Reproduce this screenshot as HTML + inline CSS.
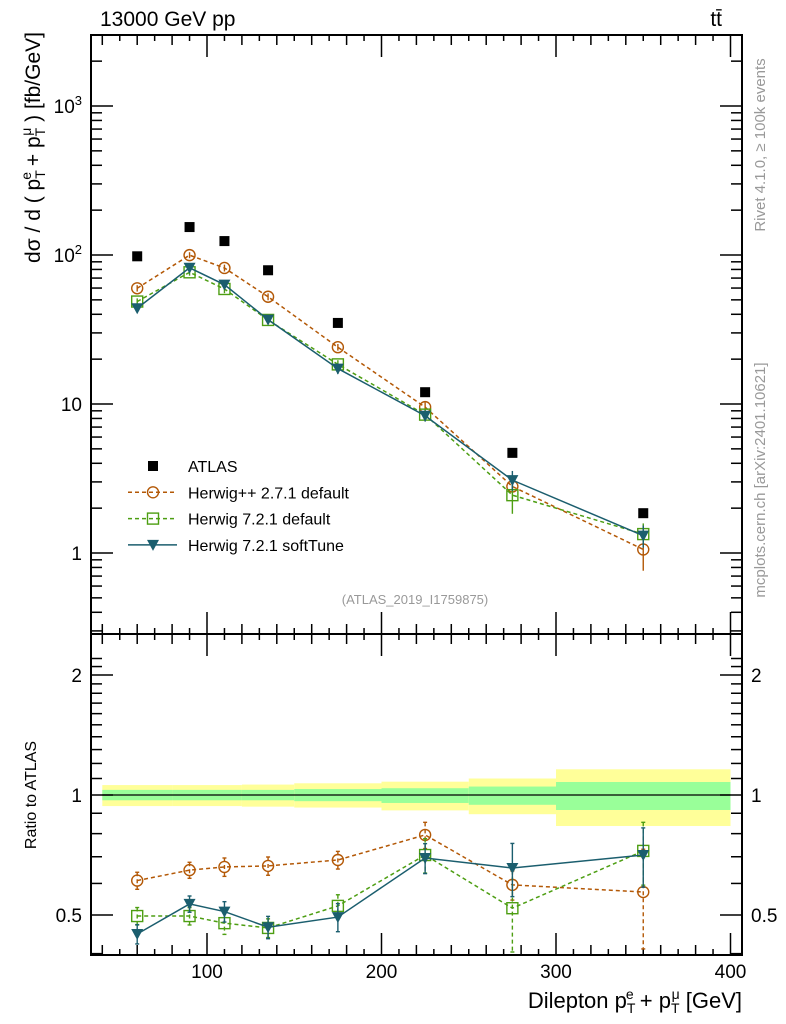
<!DOCTYPE html>
<html><head><meta charset="utf-8"><style>
body{margin:0;background:#fff;}
svg{display:block;font-family:"Liberation Sans",sans-serif;}
</style></head><body>
<svg id="chart" width="786" height="1024" xmlns="http://www.w3.org/2000/svg"></svg>
<script>
const binLo=[40,80,100,120,150,200,250,300];
const binHi=[80,100,120,150,200,250,300,400];
const binCenter=[60,90,110,135,175,225,275,350];
const atlas=[98,154,124,79,35,12.0,4.7,1.85];
const bandTotUp=[1.059,1.059,1.059,1.062,1.07,1.08,1.10,1.16];
const bandTotDn=[0.938,0.938,0.938,0.935,0.93,0.915,0.895,0.836];
const bandStatUp=[1.03,1.03,1.03,1.03,1.035,1.04,1.05,1.078];
const bandStatDn=[0.97,0.97,0.97,0.97,0.965,0.955,0.945,0.917];
const rHpp=[0.61,0.648,0.66,0.664,0.687,0.794,0.595,0.571];
const eHpp=[0.03,0.03,0.035,0.035,0.035,0.06,0.05,0.16];
const rH721=[0.497,0.497,0.477,0.464,0.527,0.707,0.52,0.724];
const eH721=[0.025,0.025,0.03,0.025,0.035,0.07,0.13,0.13];
const rSoft=[0.448,0.533,0.51,0.466,0.494,0.695,0.656,0.707];
const eSoft=[0.025,0.025,0.03,0.03,0.04,0.06,0.1,0.12];
const xTicks=[100,200,300,400];
const yTicksMain=[[1000,'3'],[100,'2'],[10,''],[1,'']];
const yTicksRatio=[[2,'2'],[1,'1'],[0.5,'0.5']];

const NS='http://www.w3.org/2000/svg';
const svg=document.getElementById('chart');
const L=91,R=742,T=35,MID=634,B=955;
const X=v=>32.5+(v)*1.745;
const YM=v=>553-149*Math.log10(v);
const YR=v=>795-120*Math.log2(v);
function el(tag,attrs,parent,text){const e=document.createElementNS(NS,tag);for(const k in attrs)e.setAttribute(k,attrs[k]);if(text!==undefined)e.textContent=text;(parent||svg).appendChild(e);return e;}

for(let i=0;i<binLo.length;i++){
  const b1=el('rect',{x:X(binLo[i]),y:YR(bandTotUp[i]),width:X(binHi[i])-X(binLo[i]),height:YR(bandTotDn[i])-YR(bandTotUp[i]),fill:'#ffff99'});
  
  
  const b2=el('rect',{x:X(binLo[i]),y:YR(bandStatUp[i]),width:X(binHi[i])-X(binLo[i]),height:YR(bandStatDn[i])-YR(bandStatUp[i]),fill:'#99ff99'});
  
  
}
el('line',{x1:X(40),x2:X(400),y1:YR(1),y2:YR(1),stroke:'#000','stroke-width':1.2});

el('rect',{x:L,y:T,width:R-L,height:MID-T,fill:'none',stroke:'#000','stroke-width':2});
el('rect',{x:L,y:MID,width:R-L,height:B-MID,fill:'none',stroke:'#000','stroke-width':2});

for(let v=40;v<=400;v+=10){
  const big=v%100===0, mid=v%20===0;
  const len=big?22:(mid?10:6);
  [[T,1],[MID,-1],[MID,1],[B,-1]].forEach(([y0,d])=>{
    el('line',{x1:X(v),x2:X(v),y1:y0,y2:y0+d*len,stroke:'#000','stroke-width':1.5});
  });
}
xTicks.forEach(v=>{const t=el('text',{x:X(v),y:978,'font-size':19,'text-anchor':'middle'},svg,String(v));
});

for(let d=-1;d<=3;d++){for(let m=1;m<10;m++){const v=m*Math.pow(10,d);const y=YM(v);if(y<T||y>MID)continue;
  const len=m===1?22:11;
  el('line',{x1:L,x2:L+len,y1:y,y2:y,stroke:'#000','stroke-width':1.5});
  el('line',{x1:R,x2:R-len,y1:y,y2:y,stroke:'#000','stroke-width':1.5});}}
yTicksMain.forEach(([v,s])=>{
  let t;
  if(s){t=el('text',{x:82,y:YM(v)+7,'font-size':19,'text-anchor':'end'},svg);
    t.innerHTML='10<tspan font-size="13" dy="-8">'+s+'</tspan>';}
  else t=el('text',{x:82,y:YM(v)+7,'font-size':19,'text-anchor':'end'},svg,v===10?'10':'1');
  });
for(let v=0.4;v<=2.3;v+=0.1){const y=YR(v);if(y<MID||y>B)continue;
  const major=Math.abs(v-0.5)<1e-6||Math.abs(v-1)<1e-6||Math.abs(v-2)<1e-6;const len=major?22:11;
  el('line',{x1:L,x2:L+len,y1:y,y2:y,stroke:'#000','stroke-width':1.5});
  el('line',{x1:R,x2:R-len,y1:y,y2:y,stroke:'#000','stroke-width':1.5});}
yTicksRatio.forEach(([v,s])=>{
  const t=el('text',{x:82,y:YR(v)+7,'font-size':19,'text-anchor':'end'},svg,s);
  
  const t2=el('text',{x:751,y:YR(v)+7,'font-size':19,'text-anchor':'start'},svg,s);
  });

function marker(type,x,y,color,g){
  if(type==='sq') el('rect',{x:x-5,y:y-5,width:10,height:10,fill:'#000'},g);
  if(type==='circ') el('circle',{cx:x,cy:y,r:5.5,fill:'none',stroke:color,'stroke-width':1.4},g);
  if(type==='osq') el('rect',{x:x-5.5,y:y-5.5,width:11,height:11,fill:'none',stroke:color,'stroke-width':1.4},g);
  if(type==='tri') el('path',{d:`M${x-6} ${y-5}L${x+6} ${y-5}L${x} ${y+6}Z`,fill:color},g);
}
const series=[
  {name:'herwigpp-2-7-1',r:rHpp,e:eHpp,color:'#b35806',type:'circ',dash:'4,3'},
  {name:'herwig-7-2-1-default',r:rH721,e:eH721,color:'#4d9e12',type:'osq',dash:'4,3'},
  {name:'herwig-7-2-1-softtune',r:rSoft,e:eSoft,color:'#1b5e6e',type:'tri',dash:''}
];
series.forEach(s=>{
  const g=el('g',{});
  
  
  const ptsM=binCenter.map((c,i)=>X(c)+','+YM(s.r[i]*atlas[i])).join(' ');
  const ptsR=binCenter.map((c,i)=>X(c)+','+YR(s.r[i])).join(' ');
  el('polyline',{points:ptsM,fill:'none',stroke:s.color,'stroke-width':1.5,'stroke-dasharray':s.dash},g);
  el('polyline',{points:ptsR,fill:'none',stroke:s.color,'stroke-width':1.5,'stroke-dasharray':s.dash},g);
  binCenter.forEach((c,i)=>{
    const x=X(c);
    const y1=YR(s.r[i]+s.e[i]),y2=Math.min(B-3,YR(s.r[i]-s.e[i]));
    el('line',{x1:x,x2:x,y1:y1,y2:y2,stroke:s.color,'stroke-width':1.4,'stroke-dasharray':s.dash},g);
    el('line',{x1:x-2,x2:x+2,y1:y1,y2:y1,stroke:s.color,'stroke-width':1.4},g);
    el('line',{x1:x-2,x2:x+2,y1:y2,y2:y2,stroke:s.color,'stroke-width':1.4},g);
    const m1=YM((s.r[i]+s.e[i])*atlas[i]),m2=YM((s.r[i]-s.e[i])*atlas[i]);
    el('line',{x1:x,x2:x,y1:m1,y2:m2,stroke:s.color,'stroke-width':1.4},g);
    marker(s.type,x,YM(s.r[i]*atlas[i]),s.color,g);
    marker(s.type,x,YR(s.r[i]),s.color,g);
  });
});
const ga=el('g',{});


binCenter.forEach((c,i)=>marker('sq',X(c),YM(atlas[i]),'#000',ga));

const lg=el('g',{});


const leg=[['ATLAS','sq','#000',''],['Herwig++ 2.7.1 default','circ','#b35806','4,3'],['Herwig 7.2.1 default','osq','#4d9e12','4,3'],['Herwig 7.2.1 softTune','tri','#1b5e6e','']];
leg.forEach((l,i)=>{const y=466+i*26.3;
  if(i>0) el('line',{x1:128,x2:177,y1:y,y2:y,stroke:l[2],'stroke-width':1.5,'stroke-dasharray':l[3]},lg);
  marker(l[1],153,y,l[2],lg);
  el('text',{x:188,y:y+6,'font-size':16},lg,l[0]);});

el('text',{x:100,y:26,'font-size':21},svg,'13000 GeV pp');
el('text',{x:722,y:26,'font-size':21,'text-anchor':'end'},svg,'tt̄');
el('text',{x:415,y:604,'font-size':13,fill:'#999','text-anchor':'middle'},svg,'(ATLAS_2019_I1759875)');
const yt=el('text',{transform:'translate(40,32) rotate(-90)','font-size':21,'text-anchor':'end'},svg);
yt.innerHTML='dσ / d ( p<tspan font-size="14" dy="5">T</tspan><tspan font-size="14" dx="-8" dy="-14">e</tspan><tspan dy="9"> + p</tspan><tspan font-size="14" dy="5">T</tspan><tspan font-size="14" dx="-8" dy="-14">μ</tspan><tspan dy="9"> ) [fb/GeV]</tspan>';


el('text',{transform:'translate(36,795) rotate(-90)','font-size':16,'text-anchor':'middle'},svg,'Ratio to ATLAS');
el('text',{transform:'translate(765,145) rotate(-90)','font-size':15,fill:'#999','text-anchor':'middle'},svg,'Rivet 4.1.0, ≥ 100k events');
el('text',{transform:'translate(765,480) rotate(-90)','font-size':15,fill:'#999','text-anchor':'middle'},svg,'mcplots.cern.ch [arXiv:2401.10621]');
const xt=el('text',{x:742,y:1008,'font-size':22,'text-anchor':'end'},svg);
xt.innerHTML='Dilepton p<tspan font-size="14" dy="5">T</tspan><tspan font-size="14" dx="-8" dy="-14">e</tspan><tspan dy="9"> + p</tspan><tspan font-size="14" dy="5">T</tspan><tspan font-size="14" dx="-8" dy="-14">μ</tspan><tspan dy="9"> [GeV]</tspan>';


</script>
</body></html>
